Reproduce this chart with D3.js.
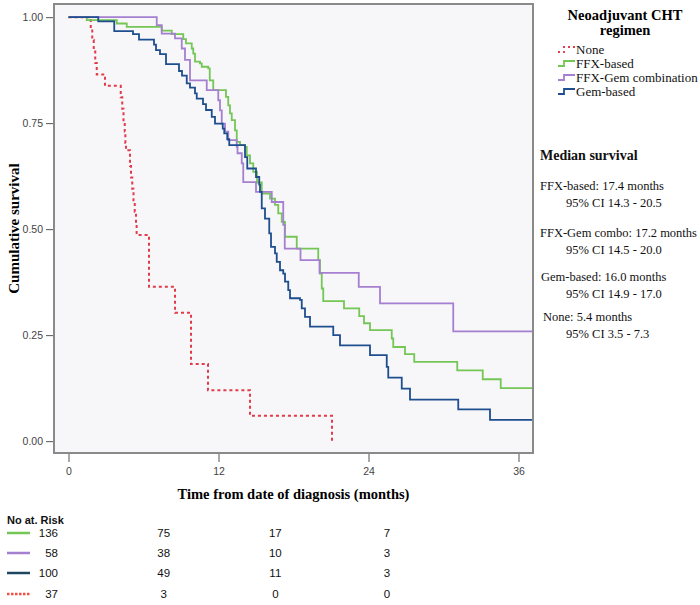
<!DOCTYPE html>
<html><head><meta charset="utf-8">
<script src="https://cdn.jsdelivr.net/npm/d3@7"></script>
<style>body{margin:0;background:#fff}svg{display:block}</style>
</head><body>
<svg id="c" width="700" height="605"></svg>
<script>
// ---------- data ----------
const groups = ["None", "FFX-based", "FFX-Gem combination", "Gem-based"];
const groupColors = ["#e23b4b", "#74c655", "#a57fd0", "#1f4e8f"];
const xTicks = [0, 12, 24, 36];
const yTicks = [0, 0.25, 0.5, 0.75, 1];

// Kaplan-Meier steps: [month, cumulative survival]
const curveNone = [[0,1],[1.78,0.973],[1.9,0.946],[2.02,0.919],[2.14,0.892],[2.26,0.865],[2.92,0.838],
  [4.18,0.811],[4.3,0.784],[4.4,0.757],[4.5,0.73],[4.55,0.703],[4.6,0.686],[4.92,0.649],[5.0,0.622],
  [5.1,0.595],[5.2,0.568],[5.3,0.541],[5.4,0.514],[5.45,0.486],[6.44,0.364],[8.52,0.303],[9.8,0.182],
  [11.16,0.12],[14.52,0.06],[21.08,0]];
const curveFFX = [[0,1],[1.46,0.993],[3.86,0.985],[4.66,0.977],[7.46,0.968],[8.26,0.96],[9.18,0.948],
  [9.4,0.938],[9.86,0.926],[9.98,0.914],[10.12,0.895],[10.52,0.891],[10.66,0.883],[11.18,0.879],[11.3,0.851],
  [11.58,0.828],[12.6,0.812],[12.78,0.792],[12.92,0.773],[13.06,0.757],[13.32,0.733],[13.46,0.706],
  [13.72,0.698],[14.12,0.694],[14.26,0.674],[14.52,0.655],[14.78,0.635],[15.08,0.61],[15.46,0.584],
  [16.12,0.572],[16.52,0.557],[16.78,0.537],[17.06,0.517],[17.32,0.482],[18.26,0.454],[19.98,0.427],
  [20.12,0.395],[20.26,0.36],[20.38,0.33],[22.04,0.313],[23.26,0.295],[23.64,0.278],[24.12,0.262],
  [25.86,0.242],[25.98,0.222],[26.92,0.205],[27.66,0.187],[31.1,0.167],[33.14,0.146],[34.58,0.125],[37.3,0.125]];
const curveFFXGem = [[0,1],[7.06,0.981],[7.46,0.961],[8.52,0.95],[9.06,0.926],[9.32,0.899],[9.72,0.851],
  [11.06,0.828],[11.98,0.804],[12.12,0.78],[12.26,0.749],[12.52,0.73],[12.78,0.71],[13.46,0.694],
  [13.52,0.679],[13.86,0.655],[13.98,0.611],[15.0,0.588],[16.26,0.564],[17.18,0.51],[17.3,0.454],
  [18.56,0.427],[20.08,0.397],[23.22,0.364],[24.92,0.325],[30.78,0.259],[37.3,0.259]];
const curveGem = [[0,1],[2.38,0.99],[3.66,0.967],[5.16,0.96],[5.64,0.947],[6.84,0.935],[7.0,0.922],
  [7.32,0.913],[7.8,0.889],[8.84,0.873],[9.08,0.862],[9.46,0.844],[9.72,0.834],[10.12,0.82],[10.26,0.808],
  [10.76,0.795],[11.0,0.781],[11.46,0.765],[11.72,0.749],[12.34,0.737],[12.46,0.726],[12.7,0.712],
  [12.86,0.698],[14.12,0.67],[14.3,0.643],[15.0,0.623],[15.26,0.605],[15.32,0.588],[15.46,0.549],
  [15.72,0.525],[16.06,0.49],[16.2,0.458],[16.52,0.443],[16.66,0.423],[16.92,0.403],[17.18,0.395],
  [17.32,0.376],[17.58,0.356],[17.72,0.337],[18.52,0.333],[18.66,0.313],[18.92,0.293],[19.32,0.27],
  [21.18,0.25],[21.72,0.226],[24.12,0.203],[25.46,0.175],[25.58,0.15],[26.66,0.124],[27.32,0.098],
  [31.18,0.075],[33.72,0.05],[37.3,0.05]];
const curves = [curveNone, curveFFX, curveFFXGem, curveGem];

const medianLines = [
  ["FFX-based: 17.4 months", "95% CI 14.3 - 20.5"],
  ["FFX-Gem combo: 17.2 months", "95% CI 14.5 - 20.0"],
  ["Gem-based: 16.0 months", "95% CI 14.9 - 17.0"],
  ["None: 5.4 months", "95% CI 3.5 - 7.3"]
];

// numbers at risk, rows in table order
const riskTimes = [0, 12, 24, 36];
const riskFFX = [136, 75, 17, 7];
const riskFFXGem = [58, 38, 10, 3];
const riskGem = [100, 49, 11, 3];
const riskNone = [37, 3, 0, 0];
const riskRows = [riskFFX, riskFFXGem, riskGem, riskNone];
const riskColors = ["#74c655", "#a57fd0", "#1e4660", "#f0504a"];
const riskDashed = [false, false, false, true];

// ---------- drawing ----------
const svg = d3.select("#c");
const L = 54, R = 533, T = 4, B = 453;
const x = d3.scaleLinear().domain([-1.16, 37.16]).range([L, R]);
const y = d3.scaleLinear().domain([-0.028, 1.031]).range([B, T]);
const serif = "'Liberation Serif','Times New Roman',serif";
const sans = "'Liberation Sans',Arial,sans-serif";

svg.append("rect").attr("x", L).attr("y", T).attr("width", R - L).attr("height", B - T)
  .attr("fill", "#f7f6f8");

svg.append("defs").append("clipPath").attr("id", "clip")
  .append("rect").attr("x", L).attr("y", T).attr("width", R - L).attr("height", B - T);

const line = d3.line().x(d => x(d[0])).y(d => y(d[1])).curve(d3.curveStepAfter);
const g = svg.append("g").attr("clip-path", "url(#clip)");
[0, 1, 2, 3].forEach(i => {
  g.append("path").datum(curves[i]).attr("d", line).attr("fill", "none")
    .attr("stroke", groupColors[i]).attr("stroke-width", i === 0 ? 2 : 1.8)
    .attr("stroke-dasharray", i === 0 ? "3,3" : null);
});

svg.append("rect").attr("x", L).attr("y", T).attr("width", R - L).attr("height", B - T)
  .attr("fill", "none").attr("stroke", "#8a8a8a").attr("stroke-width", 2);

// axes
const yAxis = svg.append("g").attr("transform", `translate(${L - 1},0)`)
  .call(d3.axisLeft(y).tickValues(yTicks).tickFormat(d3.format(".2f")).tickSize(7).tickPadding(3));
yAxis.select(".domain").remove();
yAxis.selectAll("line").attr("stroke", "#555");
yAxis.selectAll("text").attr("font-family", sans).attr("font-size", 10.5).attr("fill", "#444");

const xAxis = svg.append("g").attr("transform", `translate(0,${B + 1})`)
  .call(d3.axisBottom(x).tickValues(xTicks).tickFormat(d3.format("d")).tickSize(8).tickPadding(6));
xAxis.select(".domain").remove();
xAxis.selectAll("line").attr("stroke", "#555");
xAxis.selectAll("text").attr("font-family", sans).attr("font-size", 10.5).attr("fill", "#444");

svg.append("text").attr("x", (L + R) / 2).attr("y", 499).attr("text-anchor", "middle")
  .attr("font-family", serif).attr("font-weight", "bold").attr("font-size", 14.5)
  .text("Time from date of diagnosis (months)");
svg.append("text").attr("transform", `translate(19,${(T + B) / 2}) rotate(-90)`).attr("text-anchor", "middle")
  .attr("font-family", serif).attr("font-weight", "bold").attr("font-size", 15)
  .text("Cumulative survival");

// legend
svg.append("text").attr("x", 625).attr("y", 20).attr("text-anchor", "middle")
  .attr("font-family", serif).attr("font-weight", "bold").attr("font-size", 14.5).text("Neoadjuvant CHT");
svg.append("text").attr("x", 625).attr("y", 35).attr("text-anchor", "middle")
  .attr("font-family", serif).attr("font-weight", "bold").attr("font-size", 14.5).text("regimen");
groups.forEach((name, i) => {
  const by = 54 + i * 14, yc = by - 4;
  svg.append("path").attr("d", `M558,${yc + 2}H564V${yc - 3}H575`).attr("fill", "none")
    .attr("stroke", groupColors[i]).attr("stroke-width", 1.8)
    .attr("stroke-dasharray", i === 0 ? "2,3" : null);
  svg.append("text").attr("x", 576).attr("y", by).attr("font-family", serif).attr("font-size", 13)
    .attr("fill", "#111").text(name);
});

// median survival block
svg.append("text").attr("x", 540).attr("y", 160).attr("font-family", serif).attr("font-weight", "bold")
  .attr("font-size", 14).attr("fill", "#111").text("Median survival");
const medY = [190, 237, 281, 321];
const medX = [540, 540, 541, 543];
medianLines.forEach((m, i) => {
  svg.append("text").attr("x", medX[i]).attr("y", medY[i]).attr("font-family", serif).attr("font-size", 12.5)
    .attr("fill", "#111").text(m[0]);
  svg.append("text").attr("x", 566).attr("y", medY[i] + 17).attr("font-family", serif).attr("font-size", 12.5)
    .attr("fill", "#111").text(m[1]);
});

// risk table
const rx = d3.scaleLinear().domain([0, 36]).range([52, 387]);
svg.append("text").attr("x", 7).attr("y", 524).attr("font-family", sans).attr("font-weight", "bold")
  .attr("font-size", 11).attr("fill", "#111").text("No at. Risk");
const rowY = [537, 557, 577, 598];
riskRows.forEach((row, i) => {
  svg.append("line").attr("x1", 7).attr("x2", 30).attr("y1", rowY[i] - 4).attr("y2", rowY[i] - 4)
    .attr("stroke", riskColors[i]).attr("stroke-width", 2.5)
    .attr("stroke-dasharray", riskDashed[i] ? "2.5,1.5" : null);
  row.forEach((v, j) => {
    svg.append("text").attr("x", j === 0 ? rx(riskTimes[j]) + 6 : rx(riskTimes[j]))
      .attr("y", rowY[i]).attr("text-anchor", j === 0 ? "end" : "middle")
      .attr("font-family", sans).attr("font-size", 11.5).attr("fill", "#111").text(v);
  });
});
</script>
</body></html>
